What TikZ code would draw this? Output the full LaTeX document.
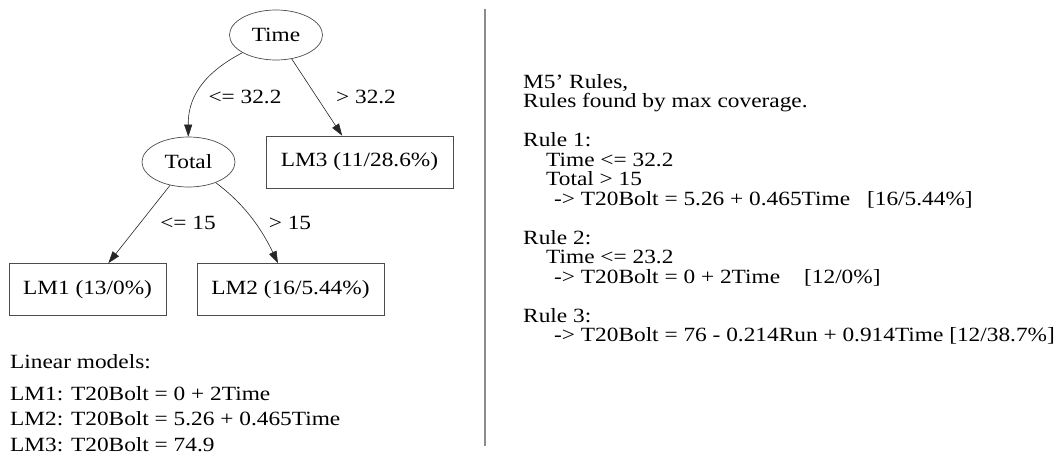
\documentclass[tikz,border=0pt]{standalone}
\usepackage{fontspec}
\setmainfont[FakeStretch=1.155]{Liberation Serif}
\usetikzlibrary{arrows.meta,shapes.geometric}
\tikzset{
  split/.style={ellipse,draw=black!70,line width=0.7pt,minimum width=93pt,minimum height=50pt,inner sep=0pt},
  leaf/.style={rectangle,draw=black!70,line width=0.7pt,minimum height=52pt,inner sep=0pt},
  edge/.style={draw=black!85,line width=0.6pt,-{Triangle[length=12pt,width=8pt]}},
  txt/.style={inner sep=0pt,align=left},
}
\begin{document}
\begin{tikzpicture}[x=1pt,y=-1pt,font=\fontsize{20.2}{19.5}\selectfont]

    \useasboundingbox (0,0) rectangle (1060,458);

    \node [split] (time) at (276,35) {Time};
    \node [split] (total) at (188.5,162) {Total};
    \node [leaf,minimum width=187pt] (lmthree) at (359.5,162) {LM3 (11/28.6\%)};
    \node [leaf,minimum width=157pt] (lmone) at (87.5,289.5) {LM1 (13/0\%)};
    \node [leaf,minimum width=187pt] (lmtwo) at (290.5,289.5) {LM2 (16/5.44\%)};

    \draw [edge] (time) .. controls (200,75) and (188,100) .. (total);
    \draw [edge] (time) -- (lmthree);
    \draw [edge] (total) -- (lmone);
    \draw [edge] (total) .. controls (232,195) and (255,215) .. (lmtwo);

    \node (condtimele) at (245,97) {<= 32.2};
    \node (condtimegt) at (366,97) {> 32.2};
    \node (condtotalle) at (188,223) {<= 15};
    \node (condtotalgt) at (290,223) {> 15};

    \node [txt,anchor=base west] (lmhead) at (10,368.5) {Linear models:};
    \node [txt,anchor=base west] (lmonetxt) at (10,400) {LM1: T20Bolt = 0 + 2Time};
    \node [txt,anchor=base west] (lmtwotxt) at (10,425.5) {LM2: T20Bolt = 5.26 + 0.465Time};
    \node [txt,anchor=base west] (lmthreetxt) at (10,451) {LM3: T20Bolt = 74.9};

    \draw [black!45,line width=1.5pt] (485,9) -- (485,446);

    \node [txt,anchor=north west] (rules) at (523,74) {M5' Rules,\\
        Rules found by max coverage.\\[19.5pt]
        Rule 1:\\
        \hspace*{23pt}Time <= 32.2\\
        \hspace*{23pt}Total > 15\\
        \hspace*{31pt}-> T20Bolt = 5.26 + 0.465Time\hspace{17pt}[16/5.44\%]\\[19.5pt]
        Rule 2:\\
        \hspace*{23pt}Time <= 23.2\\
        \hspace*{31pt}-> T20Bolt = 0 + 2Time\hspace{24pt}[12/0\%]\\[19.5pt]
        Rule 3:\\
        \hspace*{31pt}-> T20Bolt = 76 - 0.214Run + 0.914Time [12/38.7\%]};

\end{tikzpicture}
\end{document}
